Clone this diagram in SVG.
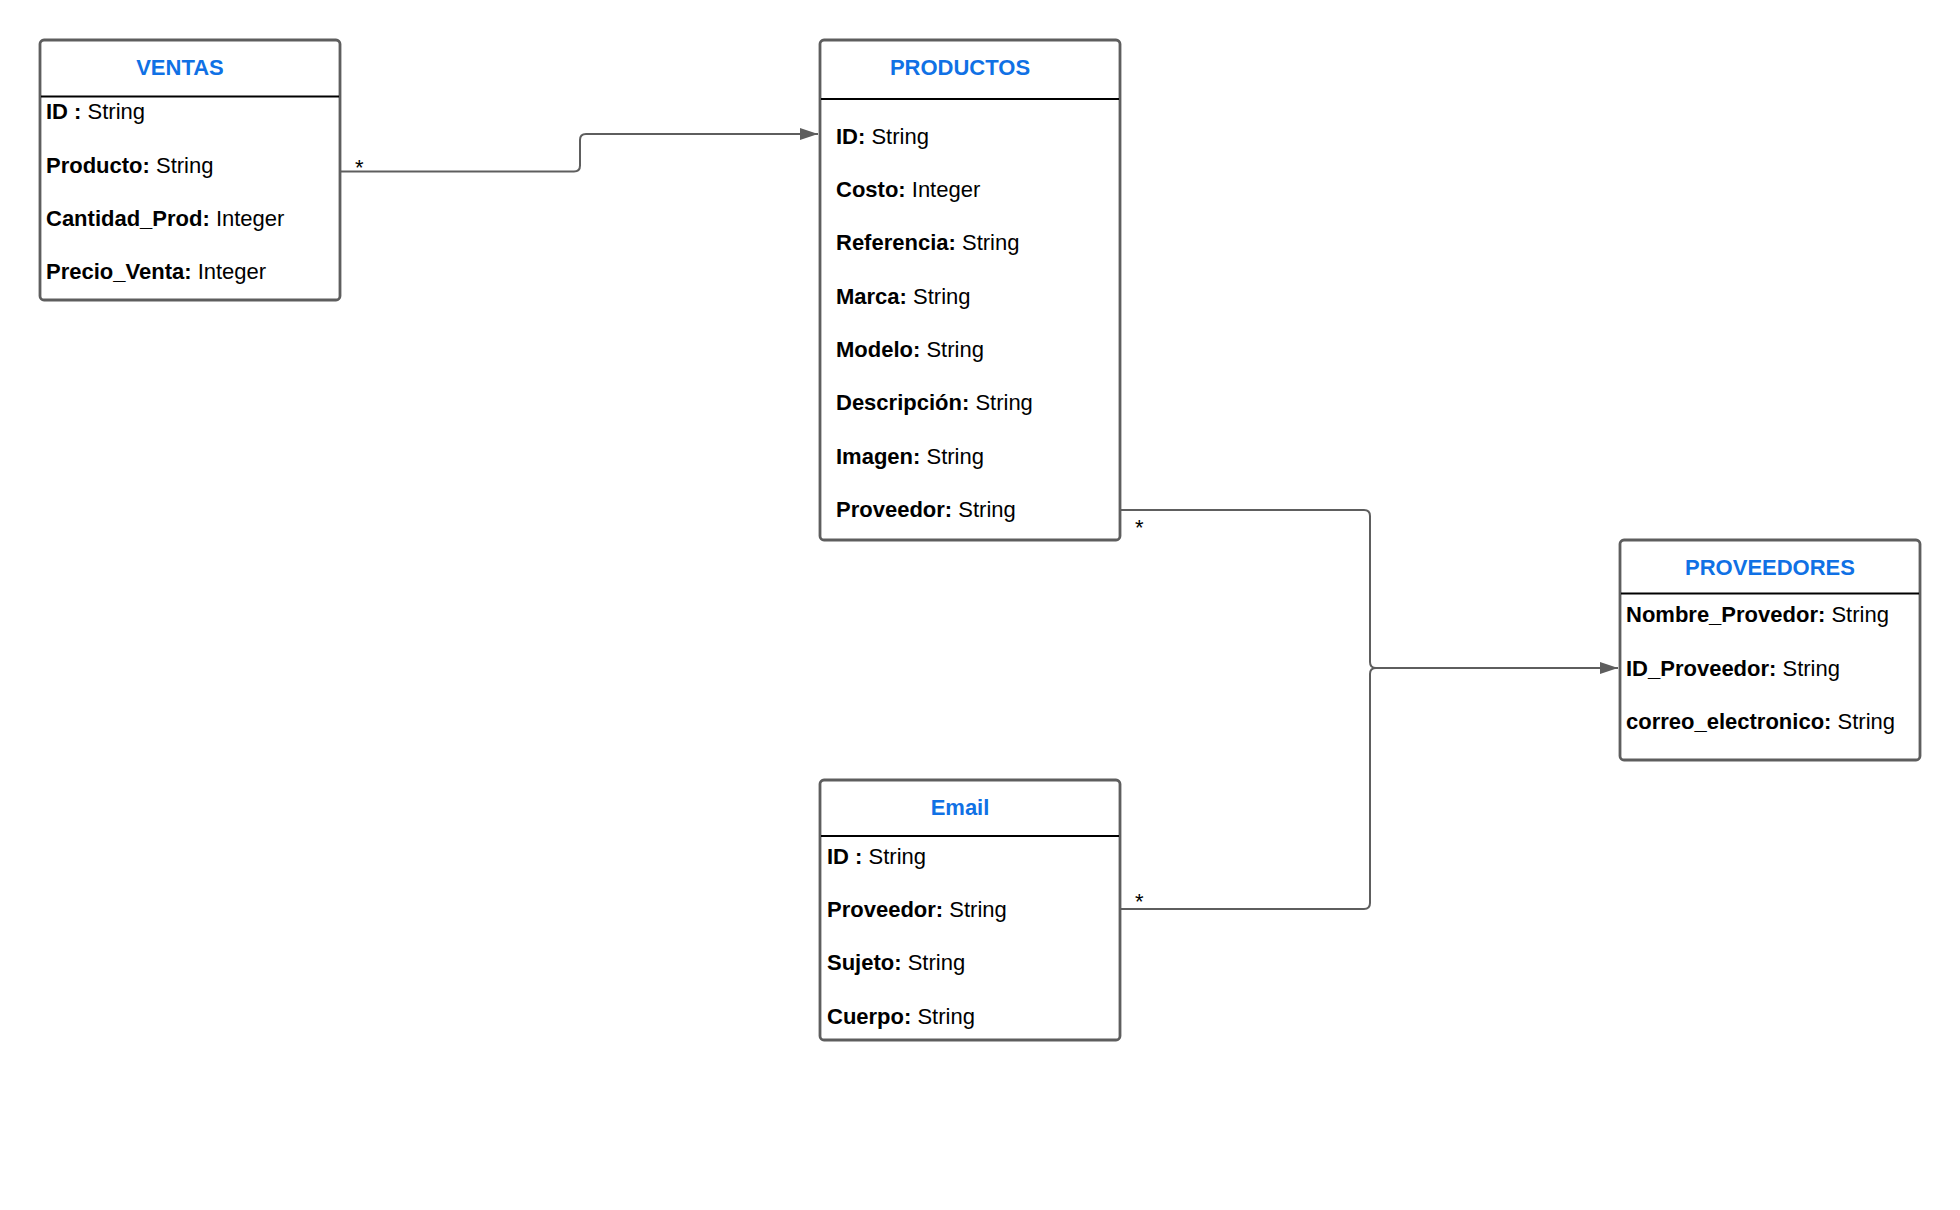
<svg xmlns="http://www.w3.org/2000/svg" width="1960" height="1210" viewBox="0 0 1960 1210">
<style>
.box{fill:#ffffff;stroke:#5e5e5e;stroke-width:2.8}
.div{stroke:#000000;stroke-width:2}
.title{font-family:"Liberation Sans",Arial,sans-serif;font-size:22px;font-weight:bold;fill:#1071e5;text-anchor:middle}
.attr{font-family:"Liberation Sans",Arial,sans-serif;font-size:22px;fill:#000000}
.attr tspan.b{font-weight:bold}
.conn{fill:none;stroke:#5e5e5e;stroke-width:2}
.mult{font-family:"Liberation Sans",Arial,sans-serif;font-size:22px;fill:#000000}
</style>
<defs>
<marker id="arrow" markerWidth="20" markerHeight="14" refX="18" refY="6" orient="auto" markerUnits="userSpaceOnUse">
<path d="M0,0 L18,6 L0,12 Z" fill="#5e5e5e"/>
</marker>
</defs>
<rect width="1960" height="1210" fill="#ffffff"/>
<g id="connectors">
<path class="conn" d="M340,171.5 H574 Q580,171.5 580,165.5 V140 Q580,134 586,134 H818" marker-end="url(#arrow)"/>
<path class="conn" d="M1120,510 H1364 Q1370,510 1370,516 V662 Q1370,668 1376,668"/>
<path class="conn" d="M1120,909 H1364 Q1370,909 1370,903 V674 Q1370,668 1376,668 H1618" marker-end="url(#arrow)"/>
<text class="mult" x="355" y="175">*</text>
<text class="mult" x="1135" y="535">*</text>
<text class="mult" x="1135" y="909">*</text>
</g>
<g id="ventas">
<rect class="box" x="40" y="40" width="300" height="260" rx="4"/>
<line class="div" x1="41" y1="96.5" x2="339" y2="96.5"/>
<text class="title" x="180" y="75">VENTAS</text>
<text class="attr" x="46" y="119"><tspan class="b">ID :</tspan> String</text>
<text class="attr" x="46" y="172.5"><tspan class="b">Producto:</tspan> String</text>
<text class="attr" x="46" y="225.5"><tspan class="b">Cantidad_Prod:</tspan> Integer</text>
<text class="attr" x="46" y="278.5"><tspan class="b">Precio_Venta:</tspan> Integer</text>
</g>
<g id="productos">
<rect class="box" x="820" y="40" width="300" height="500" rx="4"/>
<line class="div" x1="821" y1="99" x2="1119" y2="99"/>
<text class="title" x="960" y="75">PRODUCTOS</text>
<text class="attr" x="836" y="143.5"><tspan class="b">ID:</tspan> String</text>
<text class="attr" x="836" y="196.5"><tspan class="b">Costo:</tspan> Integer</text>
<text class="attr" x="836" y="250"><tspan class="b">Referencia:</tspan> String</text>
<text class="attr" x="836" y="303.5"><tspan class="b">Marca:</tspan> String</text>
<text class="attr" x="836" y="356.5"><tspan class="b">Modelo:</tspan> String</text>
<text class="attr" x="836" y="410"><tspan class="b">Descripción:</tspan> String</text>
<text class="attr" x="836" y="463.5"><tspan class="b">Imagen:</tspan> String</text>
<text class="attr" x="836" y="516.5"><tspan class="b">Proveedor:</tspan> String</text>
</g>
<g id="proveedores">
<rect class="box" x="1620" y="540" width="300" height="220" rx="4"/>
<line class="div" x1="1621" y1="593.5" x2="1919" y2="593.5"/>
<text class="title" x="1770" y="575">PROVEEDORES</text>
<text class="attr" x="1626" y="621.5"><tspan class="b">Nombre_Provedor:</tspan> String</text>
<text class="attr" x="1626" y="675.5"><tspan class="b">ID_Proveedor:</tspan> String</text>
<text class="attr" x="1626" y="729"><tspan class="b">correo_electronico:</tspan> String</text>
</g>
<g id="email">
<rect class="box" x="820" y="780" width="300" height="260" rx="4"/>
<line class="div" x1="821" y1="836" x2="1119" y2="836"/>
<text class="title" x="960" y="815">Email</text>
<text class="attr" x="827" y="863.5"><tspan class="b">ID :</tspan> String</text>
<text class="attr" x="827" y="916.5"><tspan class="b">Proveedor:</tspan> String</text>
<text class="attr" x="827" y="970"><tspan class="b">Sujeto:</tspan> String</text>
<text class="attr" x="827" y="1023.5"><tspan class="b">Cuerpo:</tspan> String</text>
</g>
</svg>
